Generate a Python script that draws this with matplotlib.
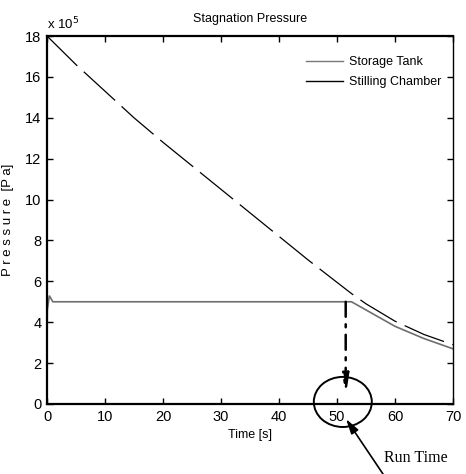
import matplotlib

matplotlib.use("Agg")
import matplotlib.pyplot as plt
from matplotlib.lines import Line2D
from matplotlib.patches import Ellipse

# --- data (pressure in units of 1e5 Pa) ---
tank_t = [0, 5, 10, 15, 20, 25, 30, 35, 40, 45, 50, 52.5, 55, 60, 65, 70]
tank_p = [18.0, 16.6, 15.3, 14.0, 12.8, 11.65, 10.5, 9.35, 8.2, 7.05, 5.95,
          5.4, 4.9, 4.05, 3.4, 2.9]

chamber_t = [0, 0.05, 0.4, 1.0, 52.5, 55, 60, 65, 70]
chamber_p = [2.7, 4.6, 5.3, 5.0, 5.0, 4.6, 3.8, 3.2, 2.7]

run_time = 51.5
legend_labels = ["Storage Tank", "Stilling Chamber"]

plt.rcParams["font.family"] = ["Liberation Sans", "DejaVu Sans"]

fig = plt.figure(figsize=(4.66, 4.74), dpi=100)
ax = fig.add_axes([0.1009, 0.1477, 0.8712, 0.7763])

ax.plot(chamber_t, chamber_p, color="#6e6e6e", lw=1.2, solid_joinstyle="miter")
ax.plot(tank_t, tank_p, color="black", lw=0.9, dashes=(34, 7))

# run time marker
ax.annotate("", xy=(run_time, 0.35), xytext=(run_time, 5.0),
            arrowprops=dict(arrowstyle="-|>,head_length=1.2,head_width=0.18",
                            lw=1.8, color="black", linestyle=(0, (6, 3, 1.2, 3)),
                            shrinkA=0, shrinkB=0))
ax.add_patch(Ellipse((51.0, 0.1), 10.0, 2.45, fill=False, lw=1.4,
                     color="black", clip_on=False))
ax.annotate("", xy=(51.55, -0.73), xycoords="data",
            xytext=(383, 0), textcoords="figure pixels", annotation_clip=False,
            arrowprops=dict(arrowstyle="-|>,head_length=0.9,head_width=0.25",
                            lw=1.2, color="black", shrinkA=0, shrinkB=0))
fig.text(384 / 466, 12 / 474, "Run Time", fontsize=11.5,
         family=["Liberation Serif", "DejaVu Serif"], ha="left",
         va="baseline")

ax.set_xlim(0, 70)
ax.set_ylim(0, 18)
ax.set_xticks(range(0, 71, 10))
ax.set_yticks(range(0, 19, 2))
ax.tick_params(direction="in", length=4, width=1, top=True, right=True,
               labelsize=10.5, pad=4)
for side in ("left", "bottom", "top"):
    ax.spines[side].set_linewidth(1.6)
ax.spines["right"].set_linewidth(1.0)

ax.set_title("Stagnation Pressure", fontsize=9, pad=10)
ax.set_xlabel("Time [s]", fontsize=9, labelpad=4)
ax.set_ylabel("P r e s s u r e  [P a]", fontsize=9.5, labelpad=8)
ax.text(0.0, 1.01, r"x 10$^5$", transform=ax.transAxes, fontsize=9.5,
        ha="left", va="bottom")

handles = [Line2D([], [], color="#777777", lw=1.0),
           Line2D([], [], color="black", lw=1.0)]
ax.legend(handles, legend_labels, loc="upper right", frameon=False,
          fontsize=9, handlelength=3.0, handletextpad=0.5,
          bbox_to_anchor=(1.0, 0.975), labelspacing=0.6)

fig.savefig("out.png", dpi=100)
